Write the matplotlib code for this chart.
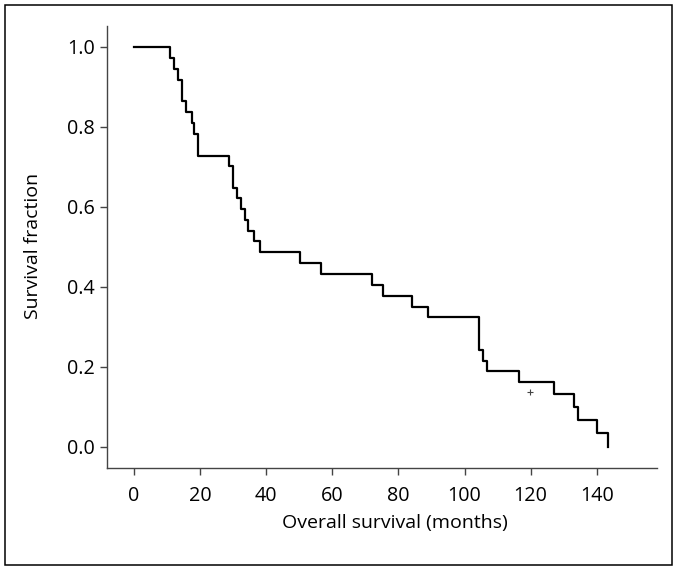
import matplotlib
matplotlib.use("Agg")
import matplotlib.pyplot as plt
from matplotlib.patches import Rectangle

# Kaplan-Meier steps: time (months) and survival after each drop
times = [0, 11.0, 12.2, 13.5, 14.5, 15.8, 17.5, 18.3, 19.3, 28.9, 30.1, 31.1,
         32.4, 33.6, 34.5, 36.2, 38.2, 50.3, 56.5, 72.1, 75.5, 84.2, 89.1,
         104.4, 105.5, 106.7, 116.6, 127.1, 133.2, 134.4, 140.2, 143.3]
surv = [1.0, 0.973, 0.945, 0.918, 0.864, 0.837, 0.810, 0.783, 0.728, 0.703,
        0.648, 0.622, 0.594, 0.568, 0.541, 0.514, 0.487, 0.459, 0.433, 0.405,
        0.378, 0.351, 0.324, 0.243, 0.216, 0.189, 0.162, 0.133, 0.100, 0.067,
        0.034, 0.0]
censor_t = [119.8]
censor_s = [0.137]

xticks = [0, 20, 40, 60, 80, 100, 120, 140]
yticks = [0.0, 0.2, 0.4, 0.6, 0.8, 1.0]

plt.rcParams['font.family'] = ['Open Sans', 'DejaVu Sans']

fig = plt.figure(figsize=(6.77, 5.71), dpi=100)
ax = fig.add_axes([107/677, 1 - 468/571, 550/677, 442/571])

ax.step(times, surv, where='post', color='black', lw=1.6)
ax.plot(censor_t, censor_s, marker='+', ms=5, mew=0.8, color='#444444', ls='none')

ax.set_xlim(-8.1, 158.2)
ax.set_ylim(-0.0525, 1.0525)
ax.set_xticks(xticks)
ax.set_yticks(yticks)
ax.set_yticklabels([f"{v:.1f}" for v in yticks])

for side in ['top', 'right']:
    ax.spines[side].set_visible(False)
for side in ['left', 'bottom']:
    ax.spines[side].set_color('#444444')
    ax.spines[side].set_linewidth(1.0)

ax.tick_params(axis='x', direction='out', length=5, width=1, color='#444444',
               labelsize=14.2, pad=8)
ax.tick_params(axis='y', direction='out', length=5, width=1, color='#444444',
               labelsize=14.2, pad=3.5)

fig.text(395/677, 1 - 523/571, "Overall survival (months)", ha='center',
         va='center', fontsize=14)
fig.text(33/677, 1 - 246/571, "Survival fraction", ha='center', va='center',
         rotation=90, fontsize=14)

fig.add_artist(Rectangle((5.5/677, 1 - 565/571), 666.5/677, 560.5/571,
                         transform=fig.transFigure, fill=False,
                         edgecolor='black', lw=1.1))

fig.savefig("out.png", dpi=100, facecolor='white')
